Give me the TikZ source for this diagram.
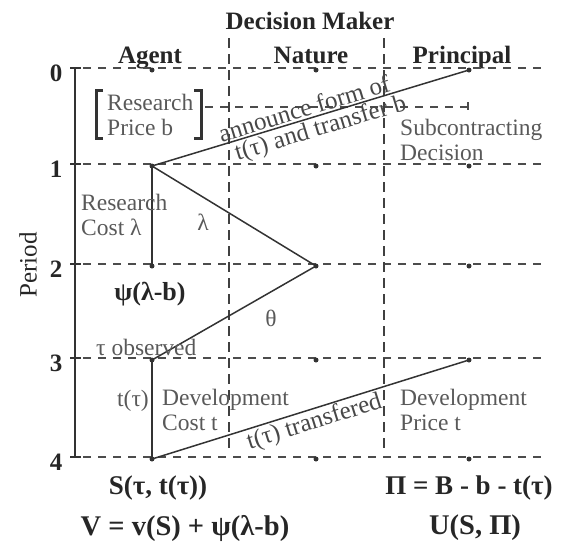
\documentclass[tikz,border=0pt]{standalone}
\usepackage{fontspec}
\setmainfont{Liberation Serif}
\begin{document}
\begin{tikzpicture}[x=1pt,y=-1pt,
  hdr/.style={font=\fontsize{25}{28}\selectfont\bfseries, text=black!85, inner sep=0pt},
  gtxt/.style={font=\fontsize{23.5}{25}\selectfont, text=black!65, inner sep=0pt, align=left},
  btxt/.style={font=\fontsize{27}{30}\selectfont\bfseries, text=black!85, inner sep=0pt},
  rtxt/.style={font=\fontsize{25}{28}\selectfont, text=black!72, inner sep=1.5pt, sloped},
  hdash/.style={draw=black!70, line width=1.2pt, dash pattern=on 8pt off 7pt},
  vdash/.style={draw=black!75, line width=2pt, dash pattern=on 10pt off 6pt},
  dot/.style={circle, fill=black!80, inner sep=0pt, minimum size=5pt},
  conn/.style={draw=black!80, line width=1.5pt},
  axis/.style={draw=black!80, line width=2.5pt}
]
\useasboundingbox (0,0) rectangle (567,544);

% headers
\node[hdr, anchor=base] (dm) at (310,29) {Decision Maker};
\node[hdr, anchor=base] (hag) at (150,63) {Agent};
\node[hdr, anchor=base] (hna) at (311,63) {Nature};
\node[hdr, anchor=base] (hpr) at (462,63) {Principal};

% grid
\foreach \y in {68,164,264,358,457} {
  \draw[hdash] (83,\y) -- (545,\y);
}
\draw[vdash] (229,38) -- (229,452);
\draw[vdash] (384,38) -- (384,452);
\draw[hdash] (205,107) -- (468,107);
\draw[draw=black!70, line width=1.2pt] (468,102) -- (468,110);

% period axis
\draw[axis] (75,68) -- (75,457);
\foreach \y/\l in {68/0,164/1,264/2,358/3,457/4} {
  \draw[draw=black!80, line width=2pt] (70,\y) -- (81,\y);
  \node[hdr, anchor=center] (p\l) at (56,\y+5) {\l};
}
\node[hdr, font=\fontsize{25}{28}\selectfont, rotate=90] (per) at (28,265) {Period};

% dots
\foreach \n/\r in {0/68,1/164,2/264,3/358,4/457} {
  \node[dot] (a\n) at (152,\r+2) {};
  \node[dot] (n\n) at (316,\r+2) {};
  \node[dot] (q\n) at (469,\r+2) {};
}

% connectors
\draw[conn] (a1.center) -- (q0.center)
  node[rtxt, pos=0.49, above] (ann) {announce form of}
  node[rtxt, pos=0.52, below] (tr) {t(τ) and transfer b};
\draw[conn] (a1.center) -- (a2.center);
\draw[conn] (a1.center) -- (n2.center);
\draw[conn] (n2.center) -- (a3.center);
\draw[conn] (a3.center) -- (a4.center);
\draw[conn] (a4.center) -- (q3.center)
  node[rtxt, pos=0.5, below] (ttr) {t(τ) transfered};

% bracket
\node[gtxt, anchor=west] (rpb) at (107,115) {Research\\Price b};
\draw[draw=black!80, line width=3pt] (103,90) -- (96,90) -- (96,138) -- (103,138);
\draw[draw=black!80, line width=3pt] (194,90) -- (201,90) -- (201,138) -- (194,138);

% gray labels
\node[gtxt, anchor=west] (sub) at (400,140) {Subcontracting\\Decision};
\node[gtxt, anchor=west] (rc) at (81,215) {Research\\Cost λ};
\node[gtxt] (lam) at (203,222) {λ};
\node[gtxt] (th) at (271,318) {θ};
\node[gtxt, anchor=base west] (tobs) at (96,355) {τ observed};
\node[gtxt] (tt) at (133,401) {t(τ)};
\node[gtxt, anchor=west] (dc) at (162,410) {Development\\Cost t};
\node[gtxt, anchor=west] (dp) at (400,410) {Development\\Price t};

% black labels
\node[hdr, font=\fontsize{26}{28}\selectfont\bfseries] (psi) at (150,294) {ψ(λ-b)};
\node[btxt] (S) at (158,488) {S(τ, t(τ))};
\node[btxt] (Pi) at (469,488) {Π = B - b - t(τ)};
\node[btxt, font=\fontsize{28.5}{30}\selectfont\bfseries] (V) at (185,528) {V = v(S) + ψ(λ-b)};
\node[btxt, font=\fontsize{28.5}{30}\selectfont\bfseries] (U) at (475,528) {U(S, Π)};
\end{tikzpicture}
\end{document}
